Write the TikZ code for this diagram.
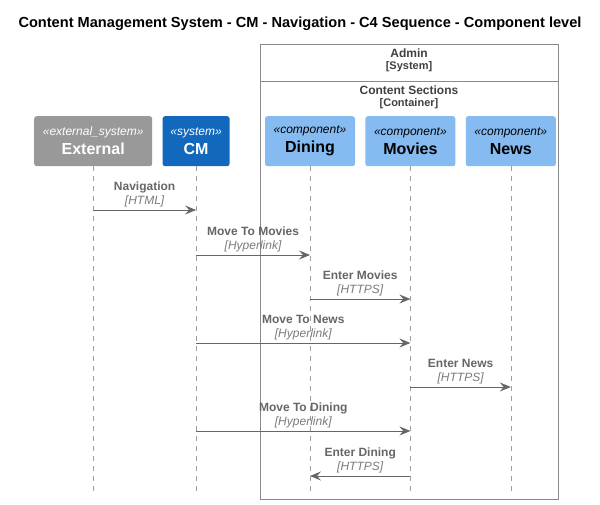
\documentclass[tikz,border=0pt]{standalone}
\usepackage{fontspec}
\setmainfont{Liberation Sans}
\usetikzlibrary{arrows.meta, positioning, calc}
\usepackage{xcolor}
\definecolor{extgrey}{HTML}{999999}
\definecolor{sysblue}{HTML}{1168BD}
\definecolor{compblue}{HTML}{85BBF0}
\definecolor{msggrey}{HTML}{666666}
\definecolor{techgrey}{HTML}{7A7A7A}
\definecolor{bndgrey}{HTML}{8A8A8A}
\newcommand{\stereofont}{\fontsize{12}{15}\selectfont\mdseries\itshape}

\begin{document}
\begin{tikzpicture}[
  x=1pt, y=-1pt,
  node distance=10pt,
  part/.style={
    rounded corners=2.5pt, minimum height=50pt, inner sep=0pt,
    align=center, font=\fontsize{16}{19}\selectfont\bfseries
  },
  extsys/.style={part, fill=extgrey, text=white, minimum width=118pt},
  sys/.style={part, fill=sysblue, text=white, minimum width=67pt},
  comp/.style={part, fill=compblue, text=black, minimum width=90pt},
  life/.style={draw=black!38, dash pattern=on 5pt off 5pt},
  msg/.style={draw=msggrey, line width=0.9pt,
    -{Stealth[length=11pt, width=9pt, inset=4pt]}},
  lbl/.style={align=center, inner sep=0pt, text=msggrey,
    font=\fontsize{12}{14}\selectfont},
  bnd/.style={draw=bndgrey, line width=0.8pt, inner sep=0pt},
  bndlbl/.style={align=center, inner sep=0pt, text=black!75}
]
\useasboundingbox (0,0) rectangle (600,505);

% ---- title
\node[font=\fontsize{14.6}{17}\selectfont\bfseries] (title) at (300,24)
  {Content Management System - CM - Navigation - C4 Sequence - Component level};

% ---- the Admin system boundary with its Content Sections container
\node[bnd, anchor=north west, minimum width=298pt, minimum height=455pt]
  (admin) at (260,44) {};
\coordinate (sep) at (0,81);
\draw[draw=bndgrey, line width=0.8pt] (admin.west |- sep) -- (admin.east |- sep);
\node[bndlbl] (adminlbl) at (409,60)
  {{\fontsize{12}{15}\selectfont\bfseries Admin}\\
   {\fontsize{11}{13}\selectfont\bfseries [System]}};
\node[bndlbl] (seclbl) at (409,97)
  {{\fontsize{12}{15}\selectfont\bfseries Content Sections}\\
   {\fontsize{11}{13}\selectfont\bfseries [Container]}};

% ---- the participants, left to right
\node[extsys, anchor=north west] (ext) at (34,116)
  {{\stereofont«external\_system»}\\External};
\node[sys] (cm) [right=of ext] {{\stereofont«system»}\\CM};
\node[comp] (dining) [right=35pt of cm] {{\stereofont«component»}\\Dining};
\node[comp] (movies) [right=of dining] {{\stereofont«component»}\\Movies};
\node[comp] (news) [right=of movies] {{\stereofont«component»}\\News};

% ---- lifelines
\coordinate (bot) at (0,491);
\foreach \p in {ext, cm, dining, movies, news}
  \draw[life] (\p.south) -- (\p |- bot);

% ---- the messages, top to bottom
\foreach \a/\b/\y/\name/\tech in {
    ext/cm/210/Navigation/HTML,
    cm/dining/255/Move To Movies/Hyperlink,
    dining/movies/299/Enter Movies/HTTPS,
    cm/movies/343/Move To News/Hyperlink,
    movies/news/387/Enter News/HTTPS,
    cm/movies/431/Move To Dining/Hyperlink,
    movies/dining/476/Enter Dining/HTTPS}
{
  \coordinate (row) at (0,\y);
  \draw[msg] (\a |- row) -- (\b |- row)
    node[lbl, midway, above=3pt]
      {\textbf{\name}\\{\color{techgrey}\itshape [\tech]}};
}

\end{tikzpicture}
\end{document}
